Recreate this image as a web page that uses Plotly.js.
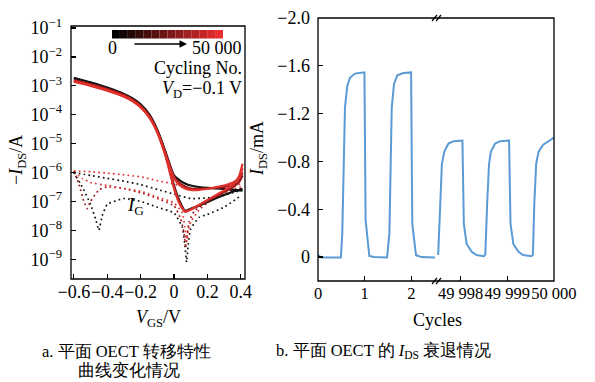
<!DOCTYPE html>
<html><head><meta charset="utf-8">
<script src="https://cdn.plot.ly/plotly-3.0.1.min.js"></script>
<style>html,body{margin:0;padding:0;background:#fff}#c{width:595px;height:382px}</style>
</head><body><div id="c"></div>
<script>
// ---------- Panel a: transfer curves ----------
const vgs = [-0.6,-0.5,-0.4,-0.3,-0.25,-0.2,-0.15,-0.1,-0.05,0,0.03,0.066,0.1,0.15,0.2,0.3,0.36,0.39,0.41];
const idsBlackFwd = [1.91e-3,1.32e-3,8.7e-4,5.2e-4,3.7e-4,2.3e-4,1.07e-4,3.0e-5,4.5e-6,3.5e-7,1.12e-7,4.7e-8,5.6e-8,7.1e-8,9.5e-8,1.66e-7,2.24e-7,2.5e-7,2.75e-7];
const idsBlackBwd = [1.78e-3,1.26e-3,8.3e-4,5.0e-4,3.55e-4,2.14e-4,1.0e-4,2.8e-5,5.0e-6,7.9e-7,5.6e-7,4.2e-7,3.55e-7,3.16e-7,2.95e-7,2.7e-7,2.5e-7,2.4e-7,2.35e-7];
const idsMidFwd = [1.58e-3,1.15e-3,7.8e-4,4.8e-4,3.4e-4,2.04e-4,9.5e-5,2.6e-5,4.0e-6,3.2e-7,1.0e-7,4.5e-8,5.4e-8,7.4e-8,1.05e-7,2.1e-7,3.3e-7,5.0e-7,1.0e-6];
const idsMidBwd = [1.51e-3,1.1e-3,7.4e-4,4.6e-4,3.2e-4,1.95e-4,9.1e-5,2.7e-5,4.5e-6,7.1e-7,4.5e-7,3.3e-7,2.8e-7,2.7e-7,2.8e-7,3.2e-7,3.8e-7,4.8e-7,7.9e-7];
const idsRedFwd = [1.45e-3,1.05e-3,7.1e-4,4.4e-4,3.1e-4,1.86e-4,8.7e-5,2.4e-5,3.5e-6,2.8e-7,8.9e-8,4.4e-8,5.2e-8,7.6e-8,1.12e-7,2.4e-7,4.2e-7,7.6e-7,2.0e-6];
const idsRedBwd = [1.38e-3,1.0e-3,6.8e-4,4.2e-4,2.95e-4,1.78e-4,8.3e-5,2.5e-5,4.0e-6,6.3e-7,3.8e-7,2.8e-7,2.5e-7,2.5e-7,2.75e-7,3.55e-7,4.7e-7,6.6e-7,1.41e-6];

// gate current (dotted)
const vG1 = [-0.6,-0.5,-0.4,-0.3,-0.2,-0.1,0,0.1,0.2,0.3,0.4];
const iG1 = [1.12e-6,1.07e-6,9.5e-7,8.3e-7,7.1e-7,5.2e-7,4.0e-7,2.8e-7,2.8e-7,3.3e-7,4.0e-7];
const vG2 = [-0.6,-0.57,-0.54,-0.52,-0.5,-0.45,-0.4,-0.3,-0.2,-0.1,0,0.04,0.06,0.07,0.08,0.09,0.12,0.2,0.3,0.4];
const iG2 = [1.12e-6,4.0e-7,1.0e-7,5.6e-8,1.0e-7,2.5e-7,3.2e-7,2.8e-7,2.0e-7,1.26e-7,7.1e-8,2.5e-8,7.9e-9,2.5e-9,7.9e-9,2.0e-8,4.5e-8,1.0e-7,1.78e-7,2.8e-7];
const vG3 = [-0.6,-0.55,-0.5,-0.47,-0.45,-0.43,-0.4,-0.3,-0.2,-0.1,0,0.05,0.065,0.075,0.085,0.1,0.15,0.2,0.3,0.4];
const iG3 = [1.0e-6,3.2e-7,7.9e-8,2.5e-8,1.0e-8,3.2e-8,7.9e-8,1.26e-7,1.0e-7,6.3e-8,4.0e-8,1.26e-8,3.2e-9,7.9e-10,3.2e-9,1.12e-8,2.8e-8,3.55e-8,6.3e-8,1.58e-7];
const vG4 = [-0.6,-0.55,-0.5,-0.4,-0.3,-0.2,-0.1,0,0.05,0.065,0.075,0.085,0.1,0.15,0.2,0.3,0.4];
const iG4 = [1.05e-6,6.3e-7,4.5e-7,3.55e-7,2.8e-7,2.24e-7,1.41e-7,8.9e-8,4.0e-8,1.26e-8,4.0e-9,1.0e-8,2.0e-8,5.0e-8,8.9e-8,2.0e-7,3.2e-7];
const vG5 = [-0.6,-0.5,-0.4,-0.3,-0.2,-0.1,0,0.1,0.2,0.3,0.4];
const iG5 = [1.0e-6,7.9e-7,6.3e-7,5.0e-7,3.8e-7,2.6e-7,1.78e-7,1.26e-7,1.32e-7,1.66e-7,2.4e-7];

const xTickValsA = [-0.6,-0.4,-0.2,0,0.2,0.4];
const xTickTextA = ['\u22120.6','\u22120.4','\u22120.2','0','0.2','0.4'];
const yTickValsA = [1e-9,1e-8,1e-7,1e-6,1e-5,1e-4,1e-3,1e-2,1e-1];
const yTickTextA = ['10<sup>\u22129</sup>','10<sup>\u22128</sup>','10<sup>\u22127</sup>','10<sup>\u22126</sup>','10<sup>\u22125</sup>','10<sup>\u22124</sup>','10<sup>\u22123</sup>','10<sup>\u22122</sup>','10<sup>\u22121</sup>'];

// ---------- Panel b: I_DS over cycles ----------
const cycA = [0,0.07,0.49,0.52,0.578,0.628,0.685,0.79,0.97,0.995,1.02,1.10,1.20,1.48,1.53,1.58,1.63,1.70,1.83,1.97,1.995,2.02,2.10,2.22,2.505];
const idsA = [-0.017,0.003,0.003,-0.197,-1.253,-1.433,-1.50,-1.535,-1.545,-1.545,-0.31,-0.01,0.0,0.003,-0.2,-1.25,-1.45,-1.52,-1.54,-1.545,-1.545,-0.28,-0.015,0.0,0.003];
const cycB = [49997.52,49997.56,49997.60,49997.65,49997.74,49997.85,49998.02,49998.04,49998.07,49998.13,49998.24,49998.34,49998.50,49998.53,49998.57,49998.61,49998.65,49998.74,49998.85,49999.02,49999.04,49999.07,49999.13,49999.24,49999.34,49999.52,49999.55,49999.58,49999.62,49999.67,49999.77,49999.91,50000];
const idsB = [-0.017,-0.45,-0.78,-0.88,-0.95,-0.97,-0.975,-0.975,-0.28,-0.11,-0.045,-0.017,-0.008,-0.02,-0.45,-0.78,-0.88,-0.95,-0.97,-0.975,-0.975,-0.28,-0.11,-0.045,-0.017,-0.008,-0.02,-0.45,-0.78,-0.88,-0.94,-0.975,-1.0];
const yTickValsB = [0,-0.4,-0.8,-1.2,-1.6,-2.0];
const yTickTextB = ['0','\u22120.4','\u22120.8','\u22121.2','\u22121.6','\u22122.0'];
const xTickValsB1 = [0,1,2];
const xTickTextB1 = ['0','1','2'];
const xTickValsB2 = [49998,49999,50000];
const xTickTextB2 = ['49 998','49 999','50 000'];

// ---------- layout helpers ----------
const W = 595, H = 382;
const px = v => v / W;
const py = v => 1 - v / H;
const SERIF = 'Liberation Serif';
const BLACK = '#111111', MID = '#9c1c1c', RED = '#e0302c';

const traces = [];
const dotStyle = (c) => ({color: c, width: 1.7, dash: '1.7px,3.2px', shape: 'spline', smoothing: 0.4});
[[vG5,iG5,BLACK],[vG3,iG3,BLACK],[vG1,iG1,RED],[vG2,iG2,MID],[vG4,iG4,RED]].forEach(([x,y,c]) => {
  traces.push({x, y, type: 'scatter', mode: 'lines', line: dotStyle(c), xaxis: 'x', yaxis: 'y', hoverinfo: 'skip'});
});
[[idsBlackFwd,BLACK],[idsBlackBwd,BLACK],[idsMidFwd,MID],[idsMidBwd,MID],[idsRedFwd,RED],[idsRedBwd,RED]].forEach(([y,c]) => {
  traces.push({x: vgs, y, type: 'scatter', mode: 'lines', line: {color: c, width: 2.2, shape: 'spline', smoothing: 0.6}, xaxis: 'x', yaxis: 'y'});
});
const BLUE = '#5b9bd5';
traces.push({x: cycA, y: idsA, type: 'scatter', mode: 'lines', line: {color: BLUE, width: 2}, xaxis: 'x2', yaxis: 'y2'});
traces.push({x: cycB, y: idsB, type: 'scatter', mode: 'lines', line: {color: BLUE, width: 2}, xaxis: 'x3', yaxis: 'y2'});

const tickFont = {family: SERIF, size: 18, color: '#000'};
const axBase = {showgrid: false, zeroline: false, showline: false, ticks: 'inside', ticklen: 5, tickwidth: 1.2, tickcolor: '#000', tickfont: tickFont, fixedrange: true, tickangle: 0};
const bFont = {family: SERIF, size: 16.5, color: '#000'};

const shapes = [];
shapes.push({type: 'rect', xref: 'paper', yref: 'paper', x0: px(71), x1: px(245), y0: py(279), y1: py(26), line: {color: '#000', width: 1.3}});
shapes.push({type: 'rect', xref: 'paper', yref: 'paper', x0: px(318), x1: px(554), y0: py(281), y1: py(18), line: {color: '#000', width: 1.3}});
[18, 281].forEach(yy => {
  [0, 4].forEach(d => {
    shapes.push({type: 'line', xref: 'paper', yref: 'paper', x0: px(432 + d), y0: py(yy + 3), x1: px(437 + d), y1: py(yy - 3), line: {color: '#000', width: 1.2}});
  });
});
const nSteps = 14;
for (let i = 0; i < nSteps; i++) {
  const t = i / (nSteps - 1);
  const r = Math.round(t * 232), g = Math.round(t * 46), b = Math.round(t * 46);
  shapes.push({type: 'rect', xref: 'paper', yref: 'paper', x0: px(112 + i * 111 / nSteps), x1: px(112 + (i + 1) * 111 / nSteps), y0: py(38.5), y1: py(30), line: {width: 0}, fillcolor: `rgb(${r},${g},${b})`});
}

const ann = (x, y, text, opts = {}) => Object.assign({xref: 'paper', yref: 'paper', x: px(x), y: py(y), text, showarrow: false, font: {family: SERIF, size: 18, color: '#000'}, xanchor: 'center', yanchor: 'middle'}, opts);
const capFont = {family: SERIF, size: 16.5, color: '#000'};
const annotations = [
  ann(112.5, 48, '0'),
  ann(244, 48, '50 000', {xanchor: 'right'}),
  ann(244, 68, 'Cycling No.', {xanchor: 'right'}),
  ann(244, 89, '<i>V</i><sub>D</sub>=\u22120.1 V', {xanchor: 'right'}),
  {xref: 'paper', yref: 'paper', x: px(187), y: py(44), ax: -54, ay: 0, text: '', showarrow: true, arrowhead: 2, arrowsize: 1, arrowwidth: 1.5, arrowcolor: '#000'},
  ann(135, 206, '<i>I</i><sub>G</sub>', {font: {family: SERIF, size: 19, color: '#000'}}),
  ann(17, 160, '\u2212<i>I</i><sub>DS</sub>/A', {textangle: -90}),
  ann(158, 318, '<i>V</i><sub>GS</sub>/V'),
  ann(259, 149, '<i>I</i><sub>DS</sub>/mA', {textangle: -90}),
  ann(437, 320, 'Cycles'),
  ann(126, 351, 'a. 平面 OECT 转移特性', {font: capFont}),
  ann(129, 370, '曲线变化情况', {font: capFont}),
  ann(383, 351, 'b. 平面 OECT 的 <i>I</i><sub>DS</sub> 衰退情况', {font: capFont})
];

const layout = {
  width: W, height: H,
  margin: {l: 0, r: 0, t: 0, b: 0},
  paper_bgcolor: '#fff', plot_bgcolor: 'rgba(0,0,0,0)',
  showlegend: false,
  font: {family: SERIF, color: '#000'},
  xaxis: Object.assign({}, axBase, {domain: [px(71), px(245)], range: [-0.617, 0.425], tickvals: xTickValsA, ticktext: xTickTextA, anchor: 'y'}),
  yaxis: Object.assign({}, axBase, {domain: [py(279), py(26)], type: 'log', range: [-9.685, -0.93], tickvals: yTickValsA, ticktext: yTickTextA, anchor: 'x', ticklabelstandoff: 8}),
  xaxis2: Object.assign({}, axBase, {domain: [px(318), px(437)], range: [0, 2.55], tickvals: xTickValsB1, ticktext: xTickTextB1, anchor: 'y2', tickfont: bFont}),
  xaxis3: Object.assign({}, axBase, {domain: [px(437), px(554)], range: [49997.495, 50000.002], tickvals: xTickValsB2, ticktext: xTickTextB2, anchor: 'y2', tickfont: bFont}),
  yaxis2: Object.assign({}, axBase, {domain: [py(281), py(18)], range: [0.2, -2.0], tickvals: yTickValsB, ticktext: yTickTextB, anchor: 'x2', ticklabelstandoff: 7}),
  shapes, annotations
};
Plotly.newPlot('c', traces, layout, {staticPlot: true, displayModeBar: false});
</script></body></html>
